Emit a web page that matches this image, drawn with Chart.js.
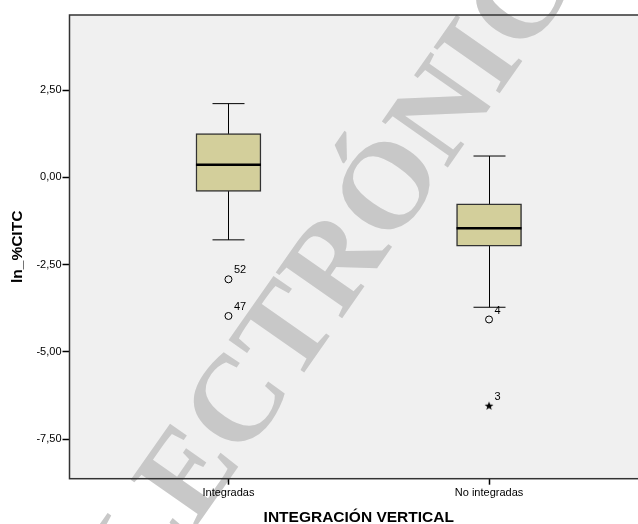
<!DOCTYPE html>
<html>
<head>
<meta charset="utf-8">
<script src="https://cdn.jsdelivr.net/npm/chart.js@4.4.1/dist/chart.umd.min.js"></script>
<style>
  html, body { margin: 0; padding: 0; background: #fff; overflow: hidden; }
</style>
</head>
<body>
<canvas id="boxChart" width="654" height="524"></canvas>
<script>
// Datos del diagrama de caja (ln_%CITC por integración vertical)
const categorias = ['Integradas', 'No integradas'];
const bigoteInf = [-1.79, -3.72];
const cuartil1 = [-0.40, -1.97];
const mediana = [0.36, -1.46];
const cuartil3 = [1.25, -0.76];
const bigoteSup = [2.11, 0.61];
const atipicos = [[-2.92, -3.97], [-4.07]];
const atipicosId = [[52, 47], [4]];
const extremos = [[], [-6.54]];
const extremosId = [[], [3]];
const ticksY = [-7.5, -5, -2.5, 0, 2.5];
const marcaAgua = 'ELECTRÓNICO';

const puntos = (vals, ids) => vals.flatMap((lista, i) =>
    lista.map((v, j) => ({ x: i + 1, y: v, id: ids[i][j] })));

const fuente = '"Liberation Sans", Arial, sans-serif';

// estrella pequeña de 5 puntas para los valores extremos
const estrella = document.createElement('canvas');
estrella.width = 10;
estrella.height = 10;
(function () {
    const c = estrella.getContext('2d');
    c.fillStyle = '#000';
    c.beginPath();
    for (let k = 0; k < 10; k++) {
        const r = k % 2 === 0 ? 4.6 : 1.9;
        const ang = -Math.PI / 2 + k * Math.PI / 5;
        c.lineTo(5 + r * Math.cos(ang), 5.4 + r * Math.sin(ang));
    }
    c.closePath();
    c.fill();
})();

const extrasPlugin = {
    id: 'extras',
    beforeDraw(chart) {
        const { ctx, chartArea: a } = chart;
        ctx.save();
        ctx.fillStyle = '#ffffff';
        ctx.fillRect(0, 0, chart.width, chart.height);
        ctx.fillStyle = '#f0f0f0';
        ctx.fillRect(a.left, a.top, a.right - a.left, a.bottom - a.top);
        // marca de agua
        ctx.translate(340, 266);
        ctx.rotate(-55 * Math.PI / 180);
        ctx.font = 'bold 123px "Liberation Serif", serif';
        ctx.fillStyle = '#c8c8c8';
        ctx.textAlign = 'center';
        ctx.textBaseline = 'middle';
        ctx.fillText(marcaAgua, 0, 0);
        ctx.restore();
    },
    beforeDatasetsDraw(chart) {
        const { ctx, chartArea: a, scales: { x, y } } = chart;
        ctx.save();
        ctx.strokeStyle = '#333';
        ctx.lineWidth = 1.5;
        ctx.strokeRect(a.left, a.top, a.right - a.left, a.bottom - a.top);
        // bigotes
        ctx.strokeStyle = '#000';
        ctx.lineWidth = 1;
        categorias.forEach((c, i) => {
            const px = Math.round(x.getPixelForValue(i + 1)) + 0.5;
            const yl = y.getPixelForValue(bigoteInf[i]);
            const yh = y.getPixelForValue(bigoteSup[i]);
            ctx.beginPath();
            ctx.moveTo(px, yl);
            ctx.lineTo(px, yh);
            ctx.moveTo(px - 16, yl);
            ctx.lineTo(px + 16, yl);
            ctx.moveTo(px - 16, yh);
            ctx.lineTo(px + 16, yh);
            ctx.stroke();
        });
        ctx.restore();
    },
    afterDatasetsDraw(chart) {
        const { ctx, scales: { x, y } } = chart;
        ctx.save();
        // medianas
        ctx.strokeStyle = '#000';
        ctx.lineWidth = 2.5;
        categorias.forEach((c, i) => {
            const px = x.getPixelForValue(i + 1);
            const py = y.getPixelForValue(mediana[i]);
            ctx.beginPath();
            ctx.moveTo(px - 32.5, py);
            ctx.lineTo(px + 32.5, py);
            ctx.stroke();
        });
        // etiquetas de casos
        ctx.fillStyle = '#000';
        ctx.font = '11px ' + fuente;
        ctx.textAlign = 'left';
        ctx.textBaseline = 'middle';
        chart.data.datasets.forEach((ds, k) => {
            if (ds.type !== 'scatter') return;
            chart.getDatasetMeta(k).data.forEach((el, j) => {
                ctx.fillText(String(ds.data[j].id), el.x + 5.5, el.y - 9);
            });
        });
        ctx.restore();
    }
};

new Chart(document.getElementById('boxChart'), {
    type: 'bar',
    data: {
        datasets: [{
            data: categorias.map((c, i) => ({ x: i + 1, y: [cuartil1[i], cuartil3[i]] })),
            backgroundColor: '#d3cf9b',
            borderColor: '#333',
            borderWidth: 1.5,
            borderSkipped: false,
            barThickness: 65
        }, {
            type: 'scatter',
            data: puntos(atipicos, atipicosId),
            pointStyle: 'circle',
            pointRadius: 3.5,
            borderColor: '#000',
            borderWidth: 1,
            backgroundColor: 'rgba(0,0,0,0)'
        }, {
            type: 'scatter',
            data: puntos(extremos, extremosId),
            pointStyle: estrella,
            pointRadius: 5
        }]
    },
    options: {
        responsive: false,
        animation: false,
        events: [],
        layout: { padding: { top: 15, right: 0, bottom: 0, left: 0 } },
        plugins: { legend: { display: false }, tooltip: { enabled: false } },
        scales: {
            x: {
                type: 'linear',
                min: 0.39,
                max: 2.61,
                offset: false,
                afterBuildTicks: s => { s.ticks = categorias.map((c, i) => ({ value: i + 1 })); },
                afterFit: s => { s.height = 45.3; },
                grid: { offset: false, drawOnChartArea: false, drawTicks: true, tickLength: 6, tickColor: '#000', tickWidth: 1.5 },
                border: { display: false },
                ticks: {
                    autoSkip: false, maxRotation: 0, padding: 2, color: '#000',
                    font: { family: fuente, size: 11 },
                    callback: v => categorias[v - 1] || ''
                },
                title: {
                    display: true, text: 'INTEGRACIÓN VERTICAL', color: '#000',
                    font: { family: fuente, size: 15.5, weight: 'bold', lineHeight: 0.8 },
                    padding: { top: 0, bottom: 0 }
                }
            },
            y: {
                min: -8.629,
                max: 4.648,
                afterBuildTicks: s => { s.ticks = ticksY.map(v => ({ value: v })); },
                afterFit: s => { s.width = 69.5; },
                grid: { drawOnChartArea: false, drawTicks: true, tickLength: 7, tickColor: '#000', tickWidth: 1.5 },
                border: { display: false },
                ticks: {
                    padding: 1, color: '#000',
                    font: { family: fuente, size: 11 },
                    callback: v => v.toFixed(2).replace('.', ',')
                },
                title: {
                    display: true, text: 'ln_%CITC', color: '#000',
                    font: { family: fuente, size: 15.5, weight: 'bold', lineHeight: 1.2 },
                    padding: { top: 8.7, bottom: 0 }
                }
            }
        }
    },
    plugins: [extrasPlugin]
});
</script>
</body>
</html>
